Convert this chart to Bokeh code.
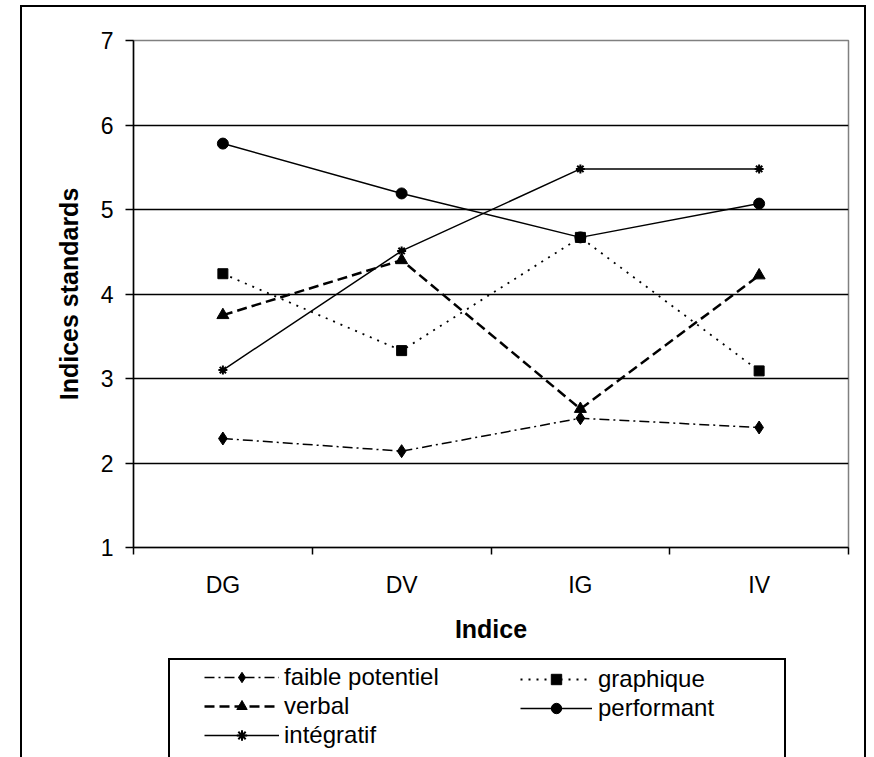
from bokeh.plotting import figure
from bokeh.layouts import column
from bokeh.models import (Range1d, FixedTicker, Legend, LegendItem, ColumnDataSource)
from bokeh.embed import file_html
from bokeh.resources import INLINE

# ---- data ----
categories = ["DG", "DV", "IG", "IV"]
faible_potentiel = [2.29, 2.14, 2.53, 2.42]
graphique = [4.24, 3.33, 4.67, 3.09]
verbal = [3.75, 4.40, 2.64, 4.22]
performant = [5.78, 5.19, 4.67, 5.07]
integratif = [3.10, 4.51, 5.48, 5.48]
y_ticks = [1, 2, 3, 4, 5, 6, 7]

FONT = "Liberation Sans"
W = 874
HA, HB = 650, 107          # chart part, legend part
FRAME_LEFT = 133

xpos = [i + 0.5 for i in range(len(categories))]


def css_lines(boxes):
    return {
        "background-color": "white",
        "background-image": ", ".join(["linear-gradient(#000, #000)"] * len(boxes)),
        "background-position": ", ".join(f"{x}px {y}px" for x, y, w, h in boxes),
        "background-size": ", ".join(f"{w}px {h}px" for x, y, w, h in boxes),
        "background-repeat": "no-repeat",
    }


# ---------------- chart ----------------
p = figure(width=W, height=HA, output_backend="svg", toolbar_location=None,
           x_range=Range1d(0, len(categories)), y_range=Range1d(1, 7))
p.min_border_left = FRAME_LEFT
p.min_border_right = W - 848
p.min_border_top = 40
p.min_border_bottom = HA - 547
p.background_fill_color = "white"
p.border_fill_color = None
p.outline_line_color = "#808080"
p.outline_line_width = 1.5
p.styles = css_lines([(20, 5, 2, HA - 5), (20, 5, 846, 2), (864, 5, 2, HA - 5)])

p.xaxis.ticker = FixedTicker(ticks=xpos, minor_ticks=list(range(len(categories) + 1)))
p.xaxis.major_label_overrides = {x: c for x, c in zip(xpos, categories)}
p.xaxis.major_tick_out = 0
p.xaxis.major_tick_in = 0
p.xaxis.minor_tick_out = 7
p.xaxis.minor_tick_in = 0
p.xaxis.minor_tick_line_color = "black"
p.xaxis.minor_tick_line_width = 1.5
p.xaxis.axis_label = "Indice"
p.xaxis.major_label_standoff = 17
p.xaxis.axis_label_standoff = 14

p.yaxis.ticker = FixedTicker(ticks=y_ticks)
p.yaxis.minor_tick_line_color = None
p.yaxis.major_tick_out = 8
p.yaxis.major_tick_in = 0
p.yaxis.axis_label = "Indices standards"
p.yaxis.major_label_standoff = 12
p.yaxis.axis_label_standoff = 15

for ax in (p.xaxis[0], p.yaxis[0]):
    ax.axis_line_color = "black"
    ax.axis_line_width = 1.5
    ax.major_tick_line_color = "black"
    ax.major_tick_line_width = 1.5
    ax.major_label_text_font = FONT
    ax.major_label_text_font_size = "23px"
    ax.major_label_text_color = "black"
    ax.axis_label_text_font = FONT
    ax.axis_label_text_font_size = "25px"
    ax.axis_label_text_font_style = "bold"
    ax.axis_label_text_color = "black"

p.xgrid.grid_line_color = None
p.ygrid.ticker = FixedTicker(ticks=[2, 3, 4, 5, 6])
p.ygrid.grid_line_color = "black"
p.ygrid.grid_line_width = 1.3

series = [
    ("faible potentiel", faible_potentiel, "10 4 2 4", 1.5, "diamond", 13),
    ("graphique", graphique, "2 6", 1.8, "square", 10),
    ("verbal", verbal, "10 5", 2.5, "triangle", 12),
    ("performant", performant, None, 1.5, "circle", 11),
    ("intégratif", integratif, None, 1.5, "asterisk", 9),
]

# ---------------- legend strip (its frame is aligned with the chart's) ----------------
q = figure(width=W, height=HB, output_backend="svg", toolbar_location=None,
           x_range=Range1d(0, 1), y_range=Range1d(0, 1),
           x_axis_location=None, y_axis_location=None,
           min_border=0, min_border_left=0, min_border_right=0,
           min_border_top=0, min_border_bottom=0)
q.grid.visible = False
q.outline_line_color = None
q.background_fill_color = None
q.border_fill_color = None
q.styles = css_lines([(20, 0, 2, HB), (864, 0, 2, HB),
                      (168, 8, 2, HB - 8), (168, 8, 618, 2), (784, 8, 2, HB - 8)])

legend_renderers = {}
for name, vals, dash, lw, marker, size in series:
    kw = dict(line_color="black", line_width=lw)
    if dash:
        kw["line_dash"] = dash
    src = ColumnDataSource(dict(x=xpos, y=vals))
    mkw = dict(marker=marker, fill_color="black", line_color="black",
               line_width=2 if marker == "asterisk" else 1)
    p.line("x", "y", source=src, **kw)
    p.scatter("x", "y", source=src, size=size, **mkw)
    # the strip's y range (0..1) holds none of the values: only the legend glyphs show
    l1 = q.line("x", "y", source=src, **kw)
    l2 = q.scatter("x", "y", source=src, size=size - 3, **mkw)
    legend_renderers[name] = [l1, l2]


def make_legend(names, loc, gw, standoff):
    lg = Legend(items=[LegendItem(label=n, renderers=legend_renderers[n]) for n in names],
                location=loc, orientation="vertical")
    lg.border_line_alpha = 0
    lg.background_fill_alpha = 0
    lg.padding = 0
    lg.margin = 0
    lg.spacing = 1
    lg.glyph_width = gw
    lg.glyph_height = 26
    lg.label_height = 26
    lg.label_standoff = standoff
    lg.label_text_font = FONT
    lg.label_text_font_size = "24px"
    lg.label_text_color = "black"
    return lg


q.add_layout(make_legend(["faible potentiel", "verbal", "intégratif"],
                         (204 - FRAME_LEFT, 8), 75, 5))
q.add_layout(make_legend(["graphique", "performant"],
                         (520 - FRAME_LEFT, 35), 72, 6))

layout = column(p, q, spacing=0)
open("out.html", "w").write(file_html(layout, INLINE))
